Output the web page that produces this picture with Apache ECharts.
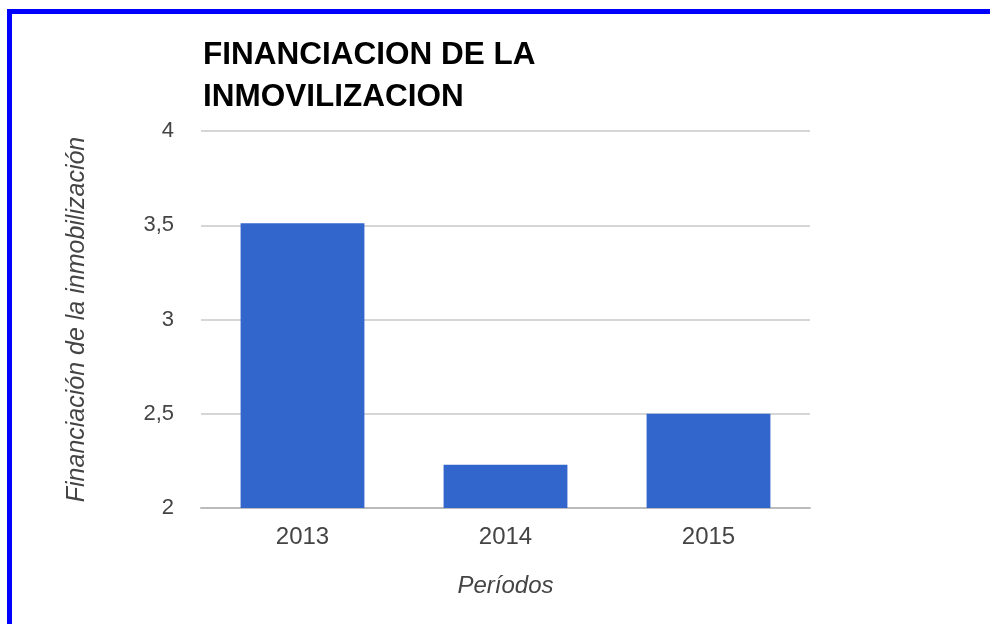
<!DOCTYPE html>
<html>
<head>
<meta charset="utf-8">
<script src="https://cdn.jsdelivr.net/npm/echarts@6/dist/echarts.min.js"></script>
<style>
  html, body { margin: 0; padding: 0; background: #fff; overflow: hidden; }
  #chart { width: 990px; height: 624px; }
  #frame {
    position: absolute; left: 7px; top: 9px; width: 1100px; height: 800px;
    border-top: 5px solid #0000ff; border-left: 5px solid #0000ff;
    pointer-events: none;
  }
</style>
</head>
<body>
<div id="chart"></div>
<div id="frame"></div>
<script>
// datos del grafico
var periodos = ['2013', '2014', '2015'];
var financiacion = [3.51, 2.23, 2.5];
var ejeY = { min: 2, max: 4, paso: 0.5 };

var fuente = 'Liberation Sans, Arial, sans-serif';
var chart = echarts.init(document.getElementById('chart'));

var option = {
  animation: false,
  title: {
    text: 'FINANCIACION DE LA\nINMOVILIZACION',
    left: 198,
    top: 29,
    textStyle: {
      fontFamily: fuente,
      fontSize: 31.5,
      fontWeight: 'bold',
      color: '#000',
      lineHeight: 42
    }
  },
  grid: { left: 201, right: 180, top: 131, bottom: 116 },
  xAxis: {
    type: 'category',
    data: periodos,
    name: 'Períodos',
    nameLocation: 'middle',
    nameGap: 66,
    nameTextStyle: { fontFamily: fuente, fontSize: 24, fontStyle: 'italic', color: '#444' },
    axisTick: { show: false },
    axisLine: { lineStyle: { color: '#bbb', width: 2 } },
    axisLabel: { fontFamily: fuente, fontSize: 24, color: '#444', margin: 17 }
  },
  yAxis: {
    type: 'value',
    min: ejeY.min,
    max: ejeY.max,
    interval: ejeY.paso,
    name: 'Financiación de la inmobilización',
    nameLocation: 'middle',
    nameGap: 111,
    nameTextStyle: { fontFamily: fuente, fontSize: 25, fontStyle: 'italic', color: '#444' },
    axisLine: { show: false },
    axisTick: { show: false },
    splitLine: { lineStyle: { color: '#d6d6d6', width: 2 } },
    axisLabel: {
      fontFamily: fuente, fontSize: 22, color: '#444', margin: 27,
      padding: [4, 0, 0, 0],
      formatter: function (v) { return String(v).replace('.', ','); }
    }
  },
  series: [{
    type: 'bar',
    data: financiacion,
    barWidth: '61%',
    itemStyle: { color: '#3366cc' }
  }]
};

chart.setOption(option);
</script>
</body>
</html>
